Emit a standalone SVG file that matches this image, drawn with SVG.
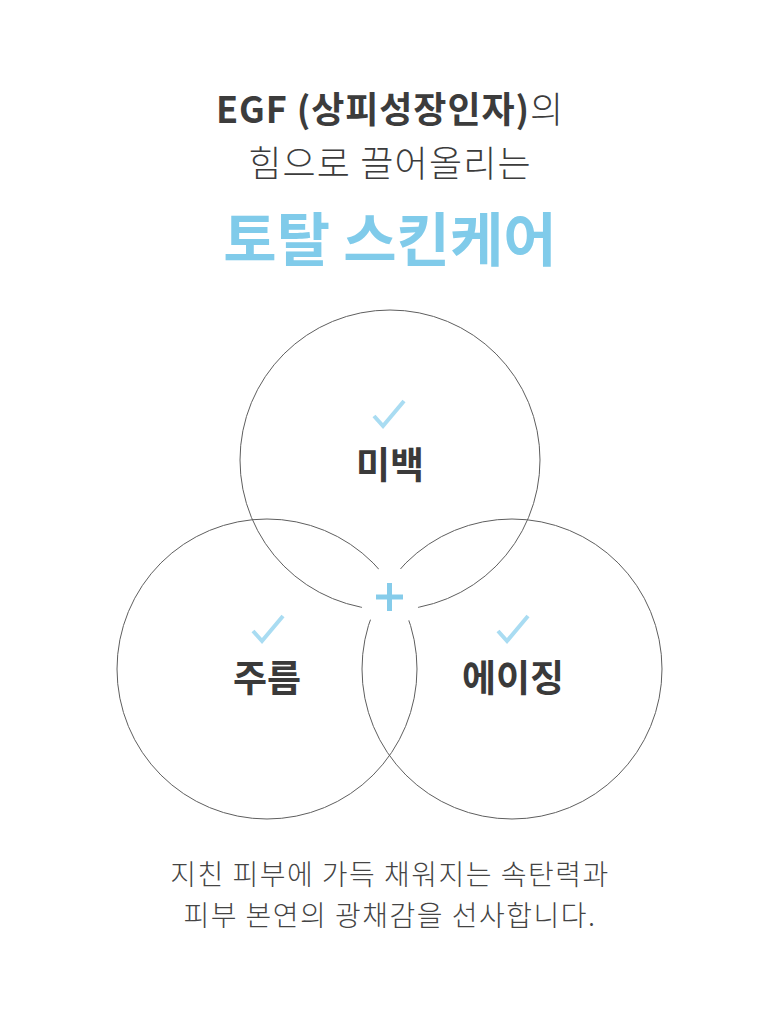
<svg xmlns="http://www.w3.org/2000/svg" width="780" height="1030" viewBox="0 0 780 1030">
  <style>
    .t { font-family: "Noto Sans CJK KR", "Noto Sans", sans-serif; text-anchor: middle; }
    .title { font-size: 36px; fill: #3c3c3c; }
    .accent { font-size: 58px; font-weight: 700; fill: #80cbea; }
    .label { font-size: 37px; font-weight: 700; fill: #3a3a3a; }
    .body { font-size: 28px; font-weight: 300; fill: #444; letter-spacing: 1.5px; }
    .ring { fill: none; stroke: #5e5e5e; stroke-width: 1; }
    .check { fill: none; stroke: #a9dcf2; stroke-width: 4; stroke-linecap: butt; stroke-linejoin: miter; }
    .plus { stroke: #86ccea; stroke-width: 5; }
  </style>
  <defs>
    <mask id="gap">
      <rect x="0" y="0" width="780" height="1030" fill="#fff"/>
      <circle cx="390" cy="597" r="30" fill="#000"/>
    </mask>
    <path id="tick" d="M -15 3 L -6 13 L 15 -12" class="check"/>
  </defs>
  <rect width="780" height="1030" fill="#fff"/>

  <g id="heading">
    <text class="t title" x="390" y="123" letter-spacing="0.9"><tspan font-weight="700">EGF (상피성장인자)</tspan><tspan font-weight="300">의</tspan></text>
    <text class="t title" x="390" y="177" font-weight="300" letter-spacing="1.2">힘으로 끌어올리는</text>
    <text class="t accent" x="390" y="261" letter-spacing="0">토탈 스킨케어</text>
  </g>

  <g id="connectors" mask="url(#gap)">
    <circle class="ring" cx="390" cy="460" r="150"/>
    <circle class="ring" cx="267" cy="669" r="150"/>
    <circle class="ring" cx="512" cy="669" r="150"/>
  </g>

  <g id="node-whitening">
    <use href="#tick" x="389" y="413"/>
    <text class="t label" x="390" y="479">미백</text>
  </g>
  <g id="node-wrinkle">
    <use href="#tick" x="268" y="628"/>
    <text class="t label" x="267" y="692">주름</text>
  </g>
  <g id="node-aging">
    <use href="#tick" x="513" y="628"/>
    <text class="t label" x="513" y="692">에이징</text>
  </g>
  <g id="plus">
    <line class="plus" x1="376" y1="597" x2="403" y2="597"/>
    <line class="plus" x1="389.5" y1="583" x2="389.5" y2="611"/>
  </g>

  <g id="caption">
    <text class="t body" x="390" y="885">지친 피부에 가득 채워지는 속탄력과</text>
    <text class="t body" x="390" y="926">피부 본연의 광채감을 선사합니다.</text>
  </g>
</svg>
